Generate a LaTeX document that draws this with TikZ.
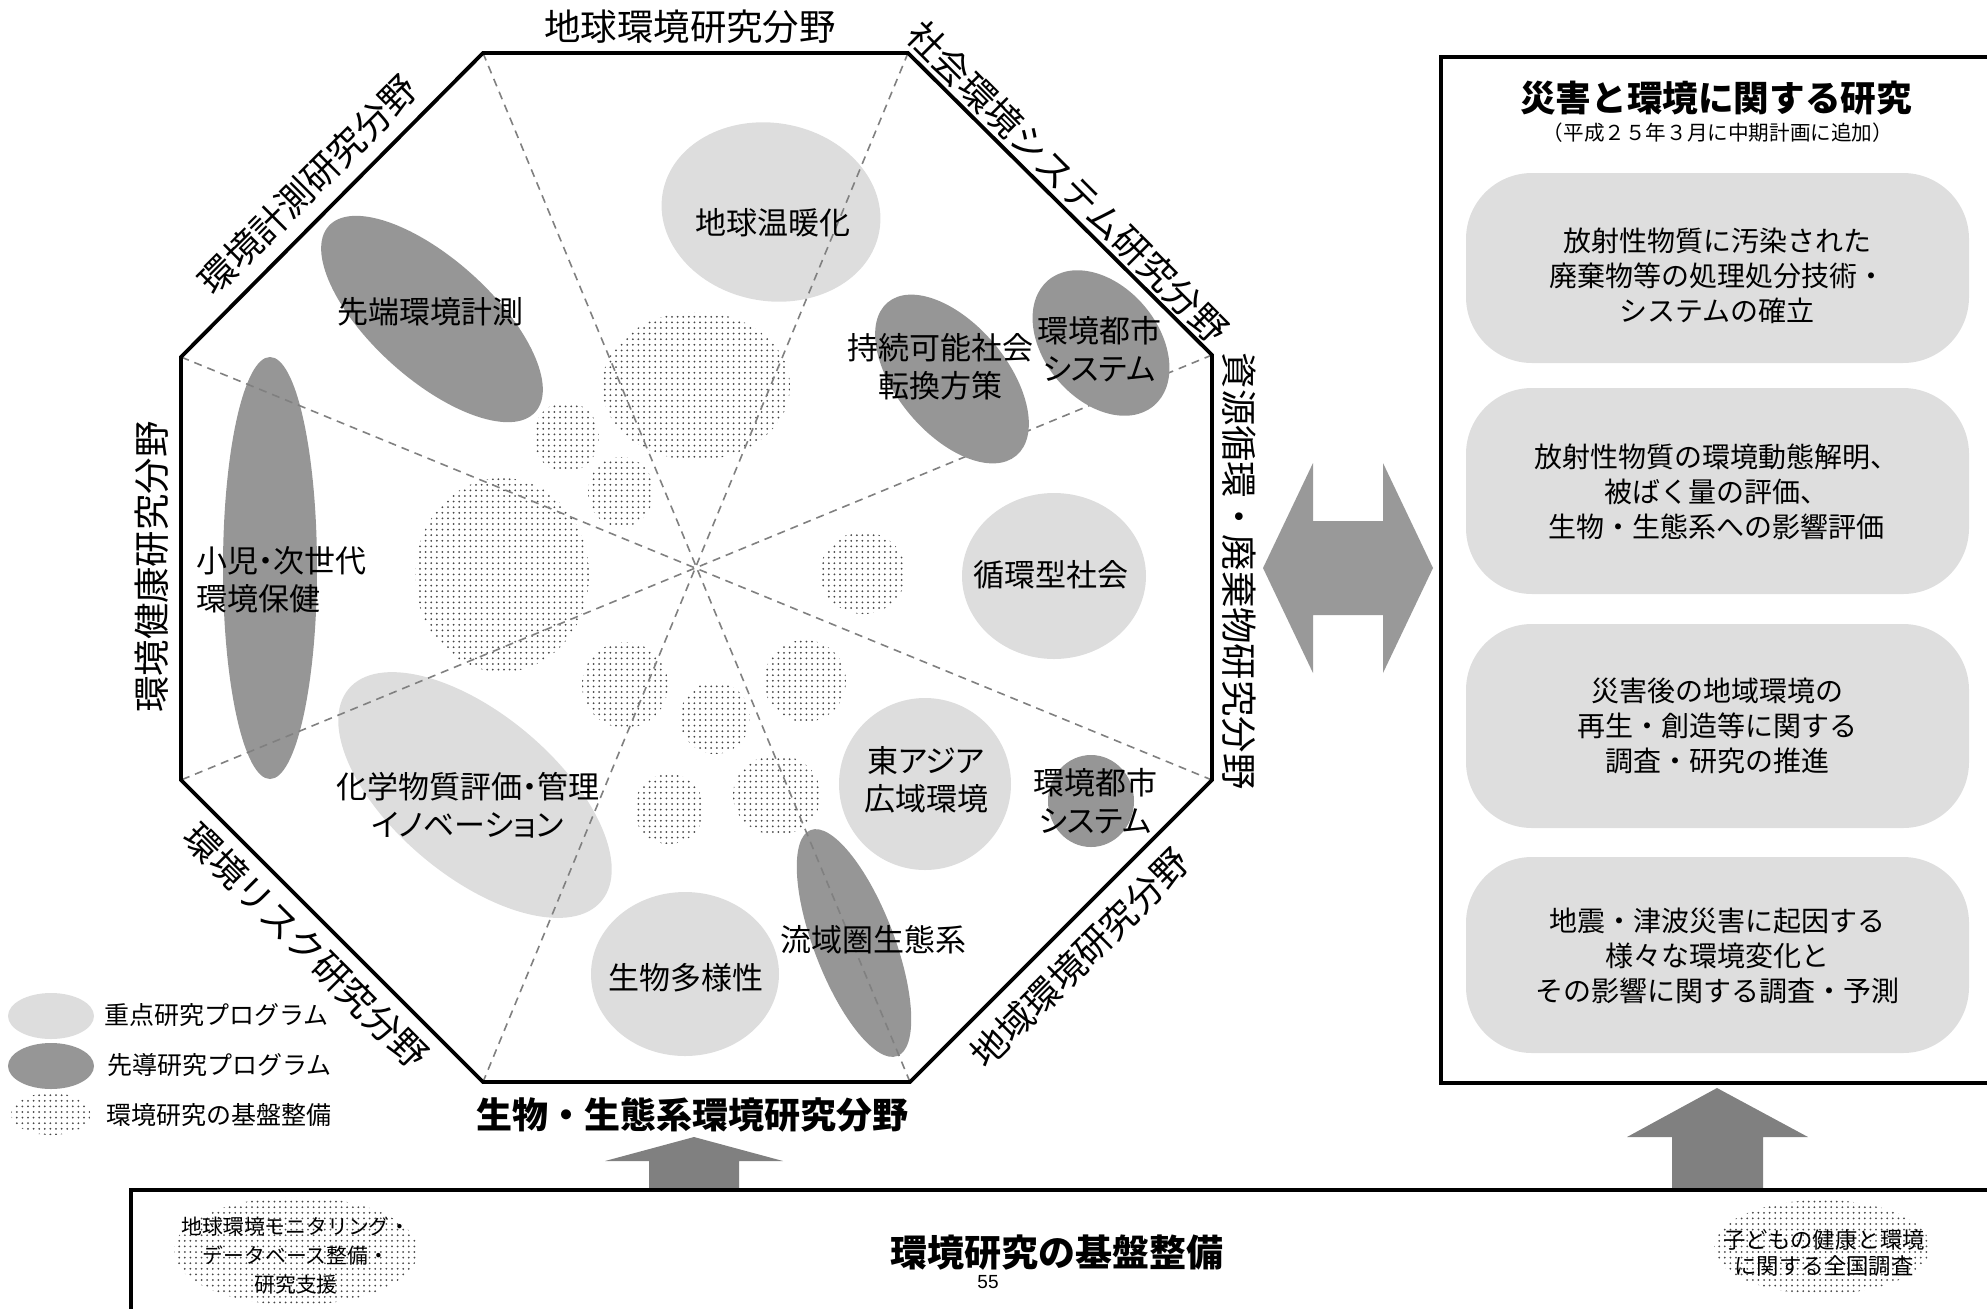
\documentclass[tikz,border=0pt]{standalone}
\usepackage{fontspec}
\setmainfont{Noto Sans CJK JP}
\newfontfamily\pfont{Noto Sans CJK JP}[RawFeature={+palt}]
\newfontfamily\arialfont{Liberation Sans}
\usetikzlibrary{shapes.geometric,patterns}
\pgfdeclarepatternformonly{smalldots}{\pgfqpoint{-1pt}{-1pt}}{\pgfqpoint{1pt}{1pt}}{\pgfqpoint{2.8pt}{2.8pt}}{\pgfpathcircle{\pgfqpoint{0pt}{0pt}}{0.5pt}\pgfusepath{fill}}
\definecolor{lightg}{RGB}{221,221,221}
\definecolor{darkg}{RGB}{150,150,150}
\definecolor{arrowg}{RGB}{128,128,128}
\definecolor{dblg}{RGB}{153,153,153}
\definecolor{boxg}{RGB}{222,222,222}
\definecolor{dashg}{RGB}{128,128,128}
\definecolor{dotg}{RGB}{70,70,70}
\begin{document}
\begin{tikzpicture}[x=0.5pt,y=-0.5pt,
  ell/.style={ellipse,inner sep=0pt,outer sep=0pt,draw=none},
  lightell/.style={ell,fill=lightg},
  darkell/.style={ell,fill=darkg},
  dotell/.style={ell,pattern=smalldots,pattern color=dotg},
  lbl/.style={font=\pfont\fontsize{15.5}{19}\selectfont,align=center,inner sep=0pt},
  sidelbl/.style={font=\fontsize{18.2}{22}\selectfont,inner sep=0pt},
  legtxt/.style={font=\fontsize{12.5}{15}\selectfont,inner sep=0pt,anchor=west},
  rbox/.style={fill=boxg,rounded corners=33pt,inner sep=0pt,draw=none},
  boxtext/.style={font=\fontsize{14}{17.5}\selectfont,align=center,inner sep=0pt},
  dashln/.style={draw=dashg,line width=0.8pt,dash pattern=on 4pt off 3pt},
  octo/.style={line width=1.9pt,line join=miter},
  frame/.style={line width=1.8pt},
  fatarrow/.style={fill=arrowg,draw=none}
]
\path[use as bounding box] (0,0) rectangle (1987,1308);
\clip (0,0) rectangle (1987,1308);

% octagon vertices
\coordinate (v1) at (483,53);
\coordinate (v2) at (908,53);
\coordinate (v3) at (1212,355);
\coordinate (v4) at (1212,780);
\coordinate (v5) at (910,1082);
\coordinate (v6) at (483,1082);
\coordinate (v7) at (181,780);
\coordinate (v8) at (181,357);

% light ellipses
\node[lightell,minimum width=110pt,minimum height=89pt,rotate=-10] (eondan) at (771,212) {};
\node[lightell,minimum width=92pt,minimum height=83pt] (ejunkan) at (1054,576) {};
\node[lightell,minimum width=86pt,minimum height=86pt] (easia) at (925,784) {};
\node[lightell,minimum width=94pt,minimum height=82pt] (eseibutsu) at (685,974) {};
\node[lightell,minimum width=165pt,minimum height=81pt,rotate=-40] (ekagaku) at (475,795) {};

% dark ellipses (under dashed lines)
\node[darkell,minimum width=139pt,minimum height=60pt,rotate=-42] (esentan) at (432,319) {};
\node[darkell,minimum width=47pt,minimum height=211pt] (eshoni) at (270,568) {};
\node[darkell,minimum width=43pt,minimum height=46pt] (etoshib) at (1091,801) {};
\node[darkell,minimum width=121pt,minimum height=40pt,rotate=-69] (eryuiki) at (854,943) {};

% dotted ellipses
\node[dotell,minimum width=94pt,minimum height=74pt] (d1) at (696,386) {};
\node[dotell,minimum width=33pt,minimum height=35pt] (d2) at (566,437) {};
\node[dotell,minimum width=33pt,minimum height=35pt] (d3) at (621,492) {};
\node[dotell,minimum width=87pt,minimum height=97pt] (d4) at (502,575) {};
\node[dotell,minimum width=43pt,minimum height=41pt] (d5) at (863,573) {};
\node[dotell,minimum width=43pt,minimum height=43pt] (d6) at (625,685) {};
\node[dotell,minimum width=41pt,minimum height=41pt] (d7) at (805,681) {};
\node[dotell,minimum width=35pt,minimum height=36pt] (d8) at (715,718) {};
\node[dotell,minimum width=35pt,minimum height=35pt] (d9) at (669,809) {};
\node[dotell,minimum width=44pt,minimum height=40pt] (d10) at (777,795) {};

% dashed diagonals
\draw[dashln] (v1) -- (v5);
\draw[dashln] (v2) -- (v6);
\draw[dashln] (v3) -- (v7);
\draw[dashln] (v4) -- (v8);

% dark ellipses on top of dashed lines
\node[darkell,minimum width=100pt,minimum height=55pt,rotate=-50] (ejizoku) at (952,379) {};
\node[darkell,minimum width=82pt,minimum height=57pt,rotate=-50] (etoshia) at (1101,343) {};

% octagon
\draw[octo] (v1) -- (v2) -- (v3) -- (v4) -- (v5) -- (v6) -- (v7) -- (v8) -- cycle;

% ellipse labels
\node[lbl] (tondan) at (773,223) {地球温暖化};
\node[lbl] (tsentan) at (430,312) {先端環境計測};
\node[lbl] (tjizoku) at (940,367) {持続可能社会\\転換方策};
\node[lbl] (ttoshia) at (1099,349) {環境都市\\システム};
\node[lbl,align=left,anchor=west] (tshoni) at (196,580) {小児・次世代\\環境保健};
\node[lbl] (tjunkan) at (1051,575) {循環型社会};
\node[lbl] (tkagaku) at (468,805) {化学物質評価・管理\\イノベーション};
\node[lbl] (tasia) at (926,780) {東アジア\\広域環境};
\node[lbl] (ttoshib) at (1095,801) {環境都市\\システム};
\node[lbl] (tryuiki) at (873,940) {流域圏生態系};
\node[lbl] (tseibutsu) at (686,978) {生物多様性};

% side labels
\node[sidelbl] (stop) at (690,27) {地球環境研究分野};
\node[sidelbl,rotate=-45] (str) at (1068,182) {社会環境システム研究分野};
\node[sidelbl,rotate=-90] (sr) at (1239,571) {資源循環・廃棄物研究分野};
\node[sidelbl,rotate=45] (sbr) at (1080,958) {地域環境研究分野};
\node[sidelbl,font=\fontsize{18}{22}\selectfont\bfseries] (sb) at (692,1115) {生物・生態系環境研究分野};
\node[sidelbl,rotate=-45] (sbl) at (306,946) {環境リスク研究分野};
\node[sidelbl,rotate=90] (sl) at (152,567) {環境健康研究分野};
\node[sidelbl,rotate=45] (stl) at (308,185) {環境計測研究分野};

% legend
\node[lightell,minimum width=43pt,minimum height=23pt] (leg1) at (51,1016) {};
\node[darkell,minimum width=43pt,minimum height=23pt] (leg2) at (51,1066) {};
\node[dotell,minimum width=40pt,minimum height=21pt] (leg3) at (51,1114) {};
\node[legtxt] (legt1) at (104,1015) {重点研究プログラム};
\node[legtxt] (legt2) at (107,1065) {先導研究プログラム};
\node[legtxt] (legt3) at (106,1115) {環境研究の基盤整備};

% double arrow
\path[fill=dblg] (1263,568) -- (1313,463) -- (1313,521) -- (1383,521) -- (1383,463) -- (1433,568)
  -- (1383,673) -- (1383,615) -- (1313,615) -- (1313,673) -- cycle;

% right frame
\draw[frame] (2000,57) -- (1441,57) -- (1441,1083) -- (2000,1083);
\node[font=\fontsize{17.8}{21}\selectfont\bfseries,inner sep=0pt] (rtitle) at (1716,98) {災害と環境に関する研究};
\node[font=\fontsize{10.3}{12}\selectfont,inner sep=0pt] (rsub) at (1718,133) {（平成２５年３月に中期計画に追加）};

\node[rbox,minimum width=251.5pt,minimum height=95pt] (rb1) at (1717.5,268) {};
\node[rbox,minimum width=251.5pt,minimum height=103pt] (rb2) at (1717.5,491) {};
\node[rbox,minimum width=251.5pt,minimum height=102pt] (rb3) at (1717.5,726) {};
\node[rbox,minimum width=251.5pt,minimum height=98pt] (rb4) at (1717.5,955) {};
\node[boxtext] (rt1) at (1717,276) {放射性物質に汚染された\\廃棄物等の処理処分技術・\\システムの確立};
\node[boxtext] (rt2) at (1716,492) {放射性物質の環境動態解明、\\被ばく量の評価、\\生物・生態系への影響評価};
\node[boxtext] (rt3) at (1717,726) {災害後の地域環境の\\再生・創造等に関する\\調査・研究の推進};
\node[boxtext] (rt4) at (1717,956) {地震・津波災害に起因する\\様々な環境変化と\\その影響に関する調査・予測};

% up arrows
\path[fatarrow] (649,1189) -- (649,1161) -- (605,1161) -- (694,1137) -- (783,1161) -- (739,1161) -- (739,1189) -- cycle;
\path[fatarrow] (1672,1189) -- (1672,1137) -- (1627,1137) -- (1717,1088) -- (1808,1137) -- (1763,1137) -- (1763,1189) -- cycle;

% bottom frame
\draw[frame] (2000,1190) -- (131,1190) -- (131,1320);
\node[dotell,minimum width=122pt,minimum height=54pt] (bl) at (296,1251) {};
\node[font=\fontsize{10.4}{14.5}\selectfont,align=center,inner sep=0pt] (blt) at (296,1256) {地球環境モニタリング・\\データベース整備・\\研究支援};
\node[dotell,minimum width=108pt,minimum height=47pt] (br) at (1822,1247) {};
\node[font=\fontsize{11.2}{13}\selectfont,align=center,inner sep=0pt] (brt) at (1824,1253) {子どもの健康と環境\\に関する全国調査};
\node[font=\fontsize{18.5}{22}\selectfont\bfseries,inner sep=0pt] (btitle) at (1057,1253) {環境研究の基盤整備};
\node[font=\arialfont\fontsize{9.5}{11}\selectfont,inner sep=0pt] (pnum) at (988,1282) {55};
\end{tikzpicture}
\end{document}
